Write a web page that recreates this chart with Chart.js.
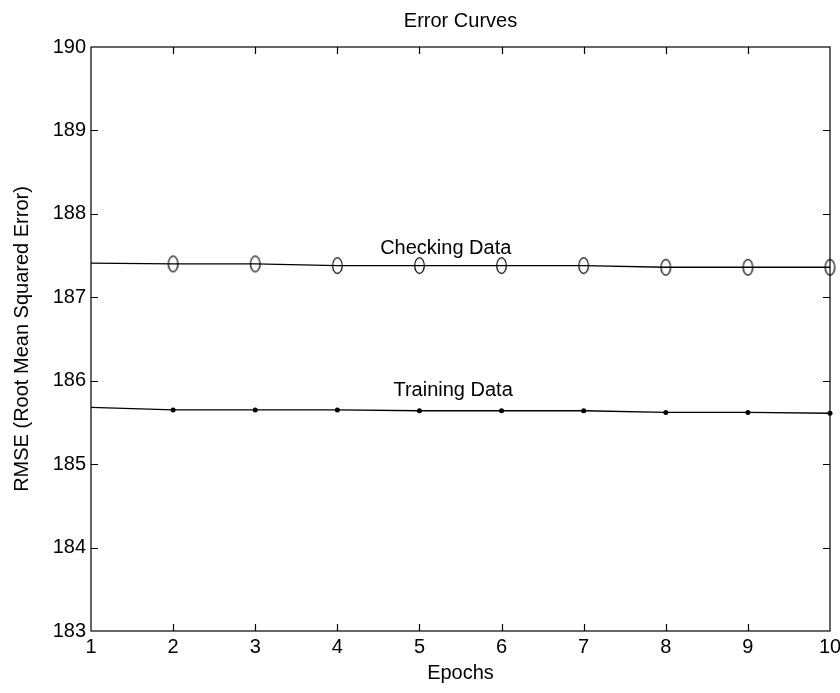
<!DOCTYPE html>
<html>
<head>
<meta charset="utf-8">
<script src="https://cdn.jsdelivr.net/npm/chart.js@4"></script>
<style>
  html, body { margin: 0; padding: 0; background: #fff; }
</style>
</head>
<body>
<canvas id="chart" width="840" height="693"></canvas>
<script>
// values
const epochs = [1, 2, 3, 4, 5, 6, 7, 8, 9, 10];
const checkingRmse = [187.41, 187.40, 187.40, 187.38, 187.38, 187.38, 187.38, 187.36, 187.36, 187.36];
const trainingRmse = [185.68, 185.65, 185.65, 185.65, 185.64, 185.64, 185.64, 185.62, 185.62, 185.61];
const yTicks = [183, 184, 185, 186, 187, 188, 189, 190];
const xTicks = [1, 2, 3, 4, 5, 6, 7, 8, 9, 10];

const chartTitle = 'Error Curves';
const xTitle = 'Epochs';
const yTitle = 'RMSE (Root Mean Squared Error)';
const seriesLabels = ['Checking Data', 'Training Data'];

// unfilled tall ellipse marker, like the matlab one
const ring = document.createElement('canvas');
ring.width = 13;
ring.height = 19;
{
  const g = ring.getContext('2d');
  g.strokeStyle = '#000';
  g.lineWidth = 1.2;
  g.beginPath();
  g.ellipse(6.5, 9.5, 4.8, 7.8, 0, 0, Math.PI * 2);
  g.stroke();
}

const FONT = '"Liberation Sans", Arial, sans-serif';

const label = (ctx, s, x, y, size, align, rot, base) => {
  ctx.save();
  ctx.translate(x, y);
  if (rot) ctx.rotate(rot);
  ctx.font = size + 'px ' + FONT;
  ctx.fillStyle = '#000';
  ctx.textAlign = align;
  ctx.textBaseline = base || 'middle';
  ctx.fillText(s, 0, 0);
  ctx.restore();
};

const matlabAxes = {
  id: 'matlabAxes',
  beforeDatasetsDraw(chart) {
    const { ctx, chartArea: a, scales: { x, y } } = chart;
    ctx.save();
    ctx.strokeStyle = '#000';
    ctx.lineWidth = 1.2;
    ctx.strokeRect(a.left, a.top, a.right - a.left, a.bottom - a.top);
    ctx.beginPath();
    xTicks.slice(1, -1).forEach(v => {
      const px = Math.round(x.getPixelForValue(v)) + 0.5;
      ctx.moveTo(px, a.bottom); ctx.lineTo(px, a.bottom - 7);
      ctx.moveTo(px, a.top); ctx.lineTo(px, a.top + 7);
    });
    yTicks.slice(1, -1).forEach(v => {
      const py = Math.round(y.getPixelForValue(v)) + 0.5;
      ctx.moveTo(a.left, py); ctx.lineTo(a.left + 7, py);
      ctx.moveTo(a.right, py); ctx.lineTo(a.right - 7, py);
    });
    ctx.stroke();
    ctx.restore();
  },
  afterDraw(chart) {
    const { ctx, chartArea: a, scales: { x, y } } = chart;
    yTicks.forEach(v => label(ctx, String(v), a.left - 5, y.getPixelForValue(v), 20, 'right'));
    xTicks.forEach(v => label(ctx, String(v), x.getPixelForValue(v), a.bottom + 16, 20, 'center'));
    label(ctx, xTitle, (a.left + a.right) / 2, a.bottom + 42, 20, 'center');
    label(ctx, yTitle, 22, (a.top + a.bottom) / 2, 20, 'center', -Math.PI / 2);
    label(ctx, chartTitle, (a.left + a.right) / 2, 21, 20, 'center');

    // curve labels sit just above each line
    label(ctx, seriesLabels[0], x.getPixelForValue(5.32), y.getPixelForValue(checkingRmse[4]) - 12, 20, 'center', 0, 'alphabetic');
    label(ctx, seriesLabels[1], x.getPixelForValue(5.41), y.getPixelForValue(trainingRmse[4]) - 15, 20, 'center', 0, 'alphabetic');
  }
};

new Chart(document.getElementById('chart'), {
  type: 'line',
  data: {
    datasets: [
      {
        label: seriesLabels[0],
        data: epochs.map((e, i) => ({ x: e, y: checkingRmse[i] })),
        borderColor: '#000',
        borderWidth: 1.3,
        pointStyle: ring,
        pointRadius: epochs.map((e, i) => i === 0 ? 0 : 5),
        clip: false
      },
      {
        label: seriesLabels[1],
        data: epochs.map((e, i) => ({ x: e, y: trainingRmse[i] })),
        borderColor: '#000',
        backgroundColor: '#000',
        borderWidth: 1.3,
        pointStyle: 'circle',
        pointRadius: epochs.map((e, i) => i === 0 ? 0 : 2.5),
        pointBorderWidth: 0,
        clip: false
      }
    ]
  },
  options: {
    responsive: false,
    animation: false,
    layout: { padding: { left: 0, top: 47, right: 10, bottom: 0 } },
    plugins: { legend: { display: false }, tooltip: { enabled: false } },
    scales: {
      x: {
        type: 'linear', min: 1, max: 10,
        ticks: { display: false, stepSize: 1 },
        grid: { display: false }, border: { display: false },
        afterFit(s) { s.height = 62; s.paddingLeft = 0; s.paddingRight = 0; }
      },
      y: {
        min: 183, max: 190,
        ticks: { display: false, stepSize: 1 },
        grid: { display: false }, border: { display: false },
        afterFit(s) { s.width = 91; s.paddingTop = 0; s.paddingBottom = 0; }
      }
    }
  },
  plugins: [matlabAxes]
});
</script>
</body>
</html>
